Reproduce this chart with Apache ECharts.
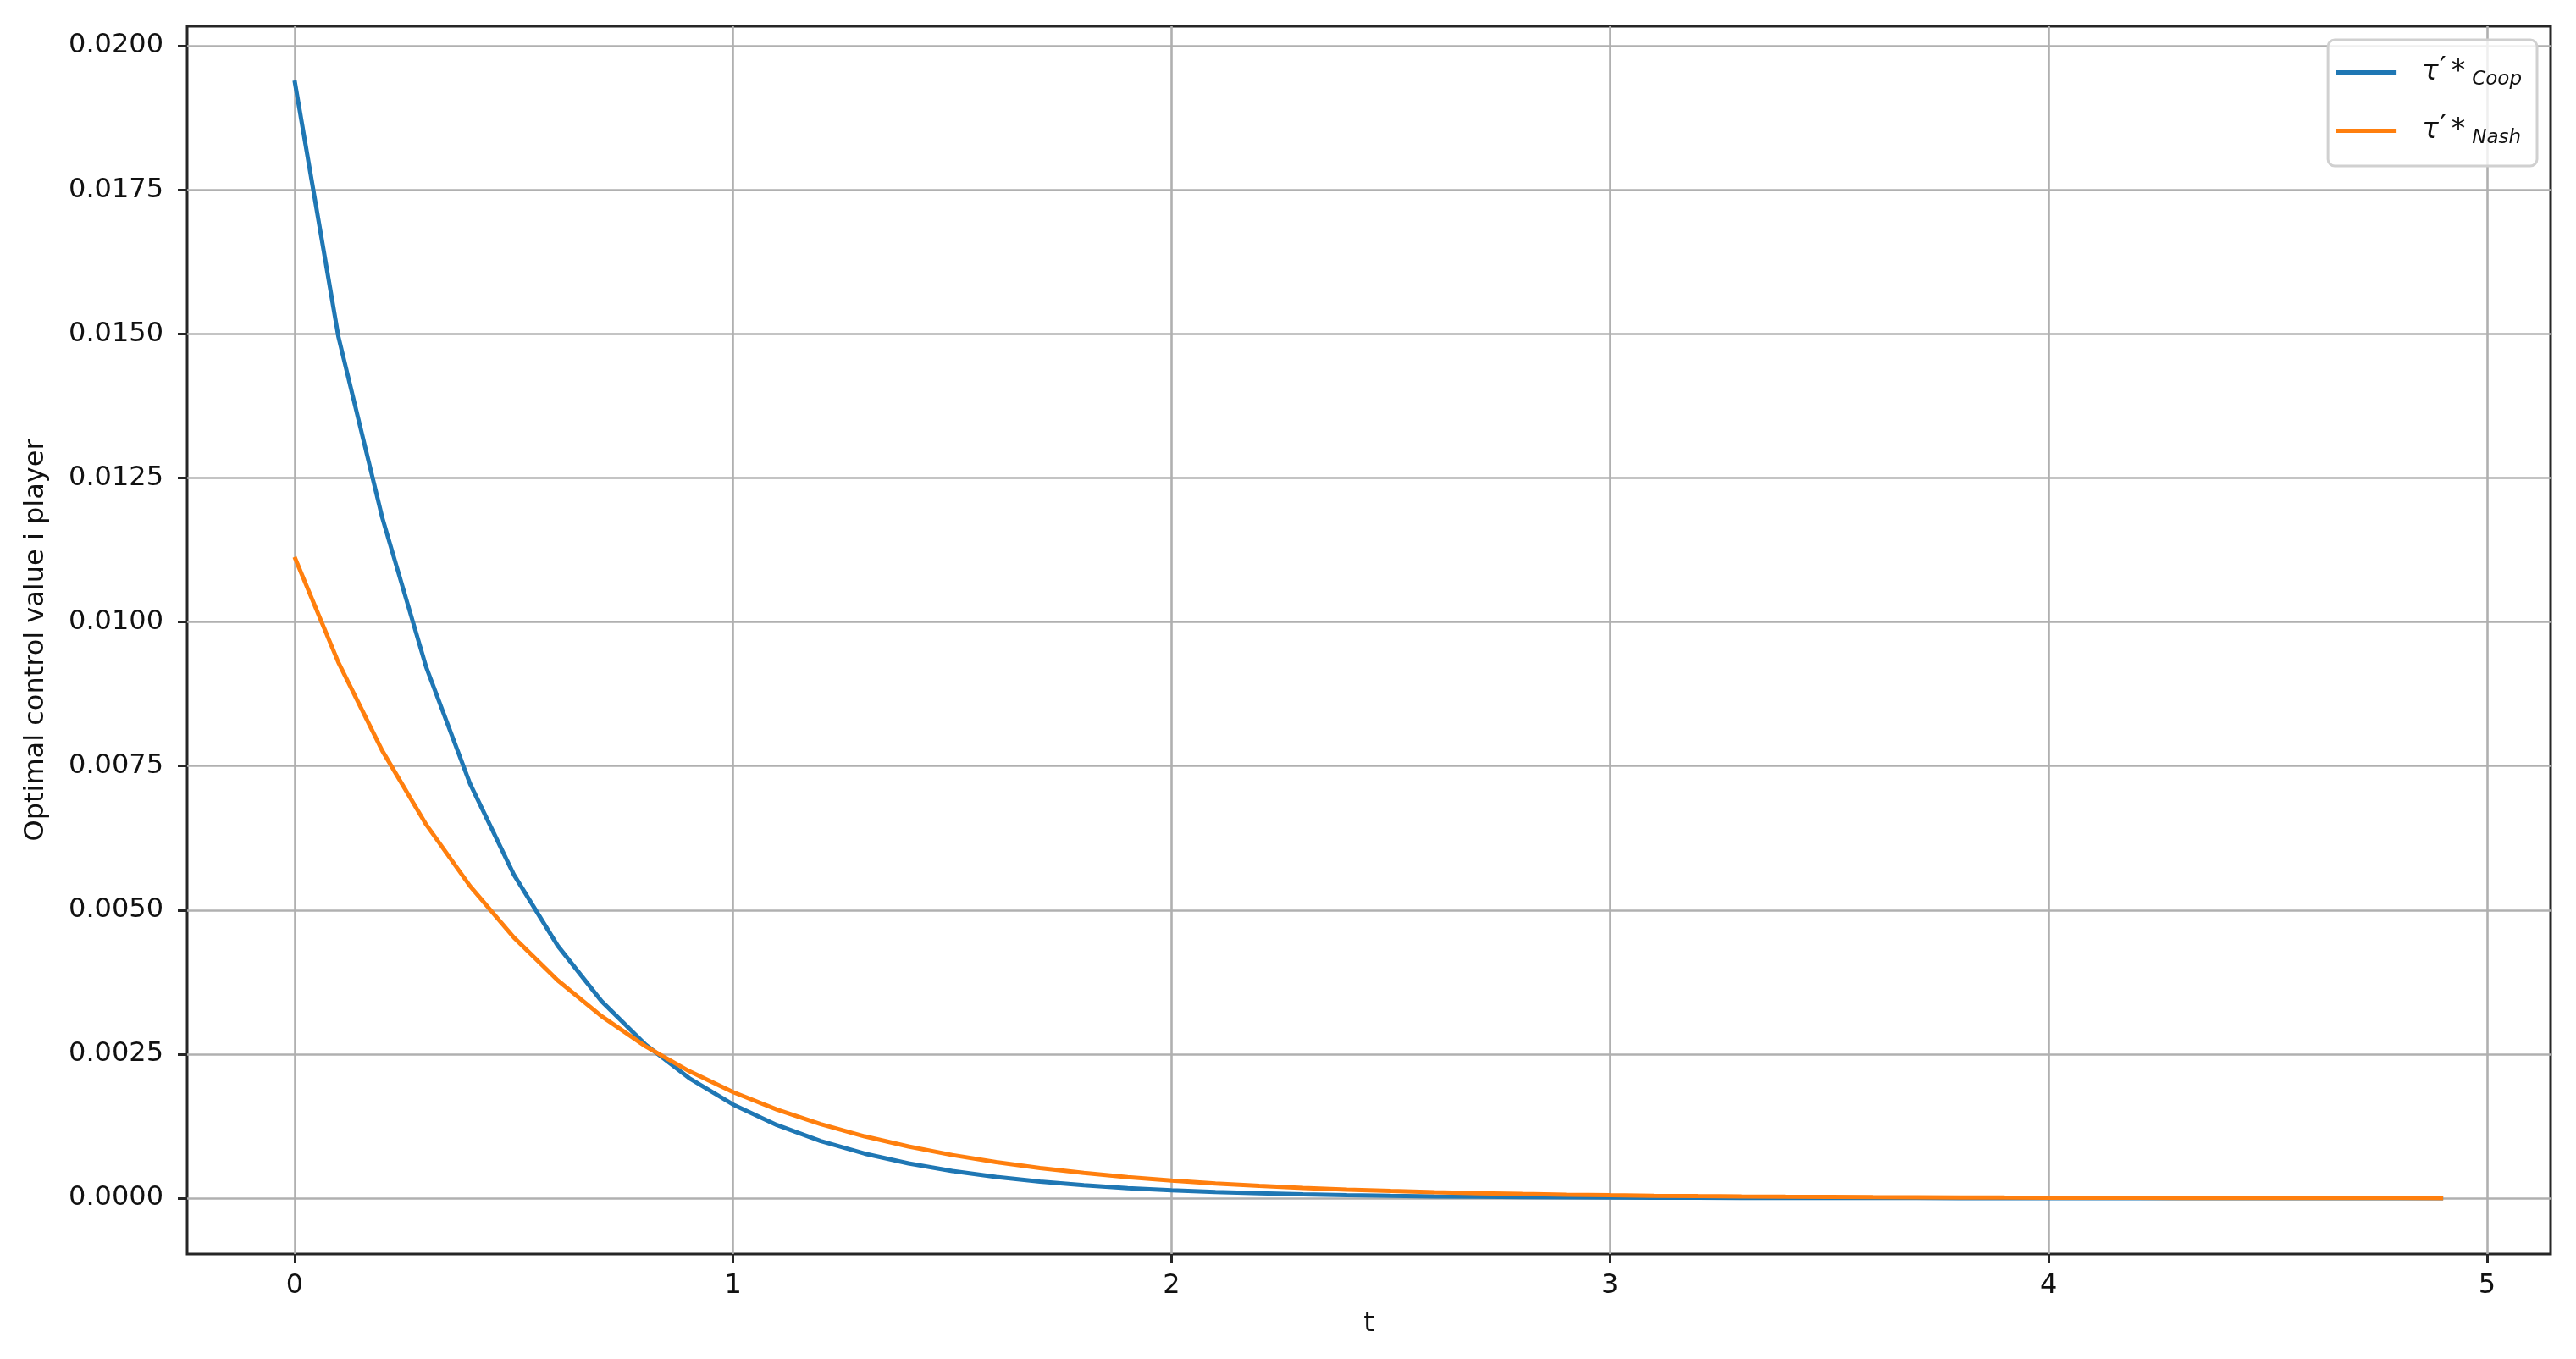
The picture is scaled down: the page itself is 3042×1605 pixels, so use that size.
<!DOCTYPE html>
<html>
<head>
    <meta charset="utf-8">
    <title>Optimal control value</title>
    <style>
        html, body {
            margin: 0;
            padding: 0;
            width: 100%;
            height: 100%;
            background: #fff;
        }
        #container {
            width: 3042px;
            height: 1605px;
        }
    </style>
</head>
<body>
    <div id="container"></div>

    <script src="https://cdn.jsdelivr.net/npm/echarts@6/dist/echarts.min.js"></script>
    <script type="text/javascript">
    // time steps (t = 0 .. 4.9, step 0.1)
    var tValues = [
        0.0, 0.1, 0.2, 0.3, 0.4, 0.5, 0.6, 0.7, 0.8, 0.9,
        1.0, 1.1, 1.2, 1.3, 1.4, 1.5, 1.6, 1.7, 1.8, 1.9,
        2.0, 2.1, 2.2, 2.3, 2.4, 2.5, 2.6, 2.7, 2.8, 2.9,
        3.0, 3.1, 3.2, 3.3, 3.4, 3.5, 3.6, 3.7, 3.8, 3.9,
        4.0, 4.1, 4.2, 4.3, 4.4, 4.5, 4.6, 4.7, 4.8, 4.9
    ];

    // values
    var coopValues = [
        0.01940, 0.01495, 0.01181, 0.009220, 0.007195, 0.005615, 0.004381, 0.003419, 0.002668, 0.002082,
        0.001625, 0.001268, 0.000989, 0.000772, 0.000602, 0.000470, 0.000367, 0.000286, 0.000223, 0.000174,
        0.000136, 0.000106, 0.0000828, 0.0000646, 0.0000504, 0.0000393, 0.0000307, 0.0000240, 0.0000187, 0.0000146,
        0.0000114, 0.0000089, 0.0000069, 0.0000054, 0.0000042, 0.0000033, 0.0000026, 0.0000020, 0.0000016, 0.0000012,
        0.0000010, 0.0000008, 0.0000006, 0.0000005, 0.0000004, 0.0000003, 0.0000002, 0.0000002, 0.0000001, 0.0000001
    ];
    var nashValues = [
        0.01113, 0.009297, 0.007765, 0.006486, 0.005418, 0.004525, 0.003780, 0.003157, 0.002637, 0.002203,
        0.001840, 0.001537, 0.001284, 0.001072, 0.000896, 0.000748, 0.000625, 0.000522, 0.000436, 0.000364,
        0.000304, 0.000254, 0.000212, 0.000177, 0.000148, 0.000124, 0.000103, 0.0000862, 0.0000720, 0.0000601,
        0.0000502, 0.0000420, 0.0000350, 0.0000293, 0.0000244, 0.0000204, 0.0000171, 0.0000142, 0.0000119, 0.0000099,
        0.0000083, 0.0000069, 0.0000058, 0.0000048, 0.0000040, 0.0000034, 0.0000028, 0.0000024, 0.0000020, 0.0000016
    ];

    var seriesNames = ['coop', 'nash'];
    var legendLabels = {
        coop: '{t|τ}{p|′}{s|*}{b|Coop}',
        nash: '{t|τ}{p|′}{s|*}{b|Nash}'
    };

    // axis ranges (matplotlib default 5% margins)
    var xMin = -0.245, xMax = 5.145, xStep = 1;
    var yMin = -0.00097, yMax = 0.02034, yStep = 0.0025;

    var FONT = 'DejaVu Sans';
    var INK = '#111';
    var FRAME = '#262626';

    function pairs(values) {
        var out = [];
        for (var i = 0; i < tValues.length; i++) {
            out.push([tValues[i], values[i]]);
        }
        return out;
    }

    var myChart = echarts.init(document.getElementById('container'), null, { renderer: 'canvas' });

    var gridLine = { show: true, showMinLine: false, showMaxLine: false, lineStyle: { color: '#b0b0b0', width: 2.6 } };

    var option = {
        animation: false,
        backgroundColor: '#fff',
        grid: {
            left: 221,
            right: 30,
            top: 31,
            bottom: 124,
            show: true,
            borderColor: FRAME,
            borderWidth: 3,
            backgroundColor: 'transparent'
        },
        legend: {
            orient: 'vertical',
            right: 46,
            top: 47,
            padding: [18, 18, 21, 9],
            itemGap: 28,
            itemWidth: 72,
            itemHeight: 5,
            icon: 'rect',
            backgroundColor: 'rgba(255,255,255,0.8)',
            borderColor: '#d0d0d0',
            borderWidth: 3,
            borderRadius: 8,
            data: seriesNames,
            formatter: function (name) {
                return legendLabels[name];
            },
            textStyle: {
                color: INK,
                fontFamily: FONT,
                rich: {
                    t: { fontSize: 33, fontStyle: 'italic', lineHeight: 41, verticalAlign: 'middle', padding: [0, 0, 0, 25], color: INK, fontFamily: FONT },
                    p: { fontSize: 34, lineHeight: 34, verticalAlign: 'top', padding: [0, 6, 0, 1], color: INK, fontFamily: FONT },
                    s: { fontSize: 33, lineHeight: 41, verticalAlign: 'middle', color: INK, fontFamily: FONT },
                    b: { fontSize: 23, fontStyle: 'italic', lineHeight: 23, verticalAlign: 'bottom', padding: [0, 0, 0, 8], color: INK, fontFamily: FONT }
                }
            }
        },
        xAxis: {
            type: 'value',
            min: xMin,
            max: xMax,
            minInterval: xStep,
            maxInterval: xStep,
            name: 't',
            nameLocation: 'middle',
            nameGap: 67,
            nameTextStyle: { fontFamily: FONT, fontSize: 32, color: INK, verticalAlign: 'top' },
            axisLine: { show: false, onZero: false },
            axisTick: { show: true, inside: false, length: 11, lineStyle: { color: FRAME, width: 3 } },
            axisLabel: {
                margin: 22,
                fontFamily: FONT,
                fontSize: 32,
                color: INK,
                showMinLabel: false,
                showMaxLabel: false,
                formatter: function (v) { return String(Math.round(v)); }
            },
            splitLine: gridLine
        },
        yAxis: {
            type: 'value',
            min: yMin,
            max: yMax,
            minInterval: yStep,
            maxInterval: yStep,
            name: 'Optimal control value i player',
            nameLocation: 'middle',
            nameGap: 162,
            nameTextStyle: { fontFamily: FONT, fontSize: 32, color: INK },
            axisLine: { show: false, onZero: false },
            axisTick: { show: true, inside: false, length: 11, lineStyle: { color: FRAME, width: 3 } },
            axisLabel: {
                margin: 28,
                fontFamily: FONT,
                fontSize: 32,
                color: INK,
                showMinLabel: false,
                showMaxLabel: false,
                formatter: function (v) { return v.toFixed(4); }
            },
            splitLine: gridLine
        },
        series: [
            {
                name: 'coop',
                type: 'line',
                data: pairs(coopValues),
                showSymbol: false,
                color: '#1f77b4',
                lineStyle: { color: '#1f77b4', width: 5 },
                z: 3
            },
            {
                name: 'nash',
                type: 'line',
                data: pairs(nashValues),
                showSymbol: false,
                color: '#ff7f0e',
                lineStyle: { color: '#ff7f0e', width: 5 },
                z: 4
            }
        ]
    };

    myChart.setOption(option, true);
    </script>
</body>
</html>
